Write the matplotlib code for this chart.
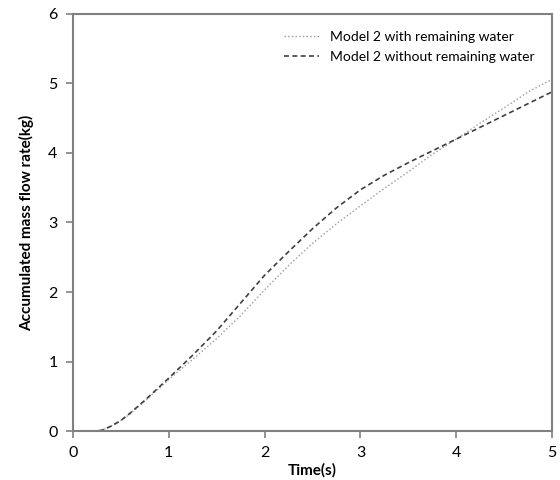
import matplotlib.pyplot as plt

plt.rcParams['font.family'] = ['Lato', 'DejaVu Sans']

# time (s)
t = [0.1, 0.2, 0.3, 0.4, 0.5, 0.6, 0.75, 1.0, 1.25, 1.5, 1.75, 2.0, 2.25, 2.5,
     2.75, 3.0, 3.25, 3.5, 3.75, 4.0, 4.25, 4.5, 4.75, 5.0]
# accumulated mass (kg)
with_water = [0.0, 0.0, 0.01, 0.07, 0.15, 0.25, 0.43, 0.74, 1.03, 1.33, 1.66, 2.03,
              2.38, 2.7, 2.98, 3.24, 3.49, 3.73, 3.98, 4.2, 4.43, 4.65, 4.88, 5.06]
without_water = [0.0, 0.0, 0.01, 0.07, 0.15, 0.26, 0.44, 0.76, 1.09, 1.44, 1.84, 2.24,
                 2.58, 2.91, 3.21, 3.47, 3.68, 3.86, 4.03, 4.2, 4.37, 4.54, 4.71, 4.88]

fig = plt.figure(figsize=(5.6, 4.8), dpi=100)
ax = fig.add_axes([0.130, 0.102, 0.856, 0.869])

ax.plot(t, with_water, color='#9a9a9a', linestyle=':', linewidth=1.0,
        label='Model 2 with remaining water')
ax.plot(t, without_water, color='#404040', linestyle=(0, (3, 2)), linewidth=1.2,
        label='Model 2 without remaining water')

ax.set_xlim(0, 5)
ax.set_ylim(0, 6)
ax.set_xticks(range(6))
ax.set_yticks(range(7))
for s in ax.spines.values():
    s.set_color('#808080')
    s.set_linewidth(1.5)
ax.tick_params(direction='out', length=5, width=1.2, color='#808080',
               labelsize=11.5, pad=6)

ax.set_xlabel('Time(s)', fontsize=11, fontweight='bold', labelpad=2)
ax.set_ylabel('Accumulated mass flow rate(kg)', fontsize=11, fontweight='bold', labelpad=10)

ax.legend(loc='upper right', frameon=False, fontsize=10, handlelength=2.5,
          bbox_to_anchor=(0.99, 0.99), labelspacing=0.6)

fig.savefig('out.png', dpi=100)
